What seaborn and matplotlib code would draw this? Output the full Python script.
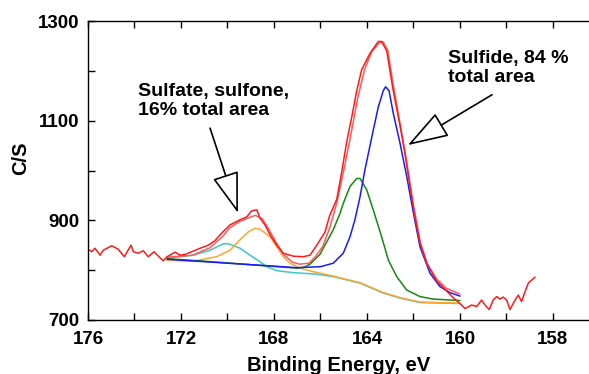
import matplotlib
matplotlib.use("Agg")
import matplotlib.pyplot as plt
import seaborn as sns
import pandas as pd

# raw spectrum (binding energy, counts per second)
raw_e = [176.0, 175.84, 175.7, 175.48, 175.34, 174.98, 174.7, 174.44, 174.15, 174.05,
         173.84, 173.62, 173.41, 173.16, 172.95, 172.76, 172.6, 172.26, 172.04, 171.8,
         171.54, 171.18, 170.83, 170.54, 170.32, 169.89, 169.46, 169.17, 168.96, 168.74,
         168.6, 168.39, 168.17, 167.88, 167.6, 167.17, 166.74, 166.45, 166.16, 165.81,
         165.6, 165.3, 165.09, 164.87, 164.66, 164.44, 164.23, 163.87, 163.51, 163.37,
         163.15, 162.87, 162.58, 162.37, 162.15, 161.94, 161.72, 161.43, 161.0, 160.57,
         160.3, 160.0, 159.78, 159.5, 159.28, 159.07, 158.92, 158.74, 158.57, 158.42,
         158.28, 158.14, 157.99, 157.85, 157.63, 157.49, 157.35, 157.2, 157.06, 156.77]
raw_cps = [842, 837, 844, 830, 840, 849, 842, 827, 850, 837,
           834, 839, 827, 837, 827, 819, 827, 836, 830, 832,
           837, 844, 850, 859, 871, 891, 901, 907, 919, 921,
           904, 891, 871, 850, 834, 828, 827, 830, 850, 876,
           910, 942, 996, 1058, 1106, 1160, 1202, 1235, 1259, 1259,
           1240, 1160, 1090, 1035, 968, 907, 854, 814, 778, 758,
           745, 733, 723, 730, 727, 740, 730, 721, 740, 747,
           742, 746, 740, 721, 740, 750, 737, 757, 774, 786]

# fit envelope
env_e = [172.6, 171.5, 170.75, 170.2, 169.9, 169.5, 169.1, 168.8, 168.5, 168.2,
         167.9, 167.6, 167.2, 166.9, 166.5, 166.2, 165.9, 165.6, 165.3, 165.0,
         164.7, 164.4, 164.1, 163.8, 163.5, 163.3, 163.1, 162.9, 162.6, 162.3,
         162.0, 161.7, 161.4, 161.0, 160.6, 160.0]
env_cps = [826, 830, 845, 868, 885, 897, 905, 910, 903, 880,
           855, 832, 816, 812, 814, 828, 848, 885, 935, 1000,
           1070, 1145, 1203, 1238, 1255, 1258, 1240, 1180, 1100, 1020,
           930, 855, 812, 782, 764, 752]

# sulfide components
blue_e = [172.6, 171.0, 169.0, 167.0, 166.0, 165.45, 165.02, 164.73, 164.52, 164.3,
          164.09, 163.73, 163.51, 163.3, 163.2, 163.05, 162.87, 162.58, 162.29, 162.0,
          161.72, 161.29, 160.86, 160.43, 160.0]
blue_cps = [822, 817, 811, 805, 807, 814, 834, 867, 901, 947,
            1001, 1081, 1128, 1160, 1168, 1160, 1115, 1055, 988, 914,
            847, 794, 767, 755, 748]
green_e = [172.6, 171.0, 169.0, 167.0, 166.7, 166.45, 166.02, 165.45, 165.16, 165.02,
           164.73, 164.44, 164.3, 164.01, 163.73, 163.37, 163.08, 162.72, 162.29, 161.72,
           161.15, 160.0]
green_cps = [823, 818, 811, 804, 806, 812, 832, 881, 914, 934,
             968, 984, 984, 961, 921, 867, 820, 787, 760, 747,
             742, 739]

# sulfate / sulfone components
cyan_e = [172.6, 171.47, 170.75, 170.18, 169.97, 169.46, 169.03, 168.6, 168.31, 167.88,
          167.17, 166.16, 165.45, 164.3, 163.3, 162.58, 161.72, 160.0]
cyan_cps = [824, 830, 840, 853, 853, 844, 830, 817, 807, 799,
            795, 792, 787, 774, 754, 744, 735, 733]
orange_e = [172.6, 171.47, 170.47, 169.89, 169.46, 169.1, 168.82, 168.6, 168.17, 167.88,
            167.6, 167.31, 166.88, 166.31, 165.45, 164.3, 163.3, 162.58, 161.72, 160.0]
orange_cps = [820, 818, 827, 840, 861, 877, 884, 882, 867, 847,
              827, 814, 804, 797, 788, 775, 755, 745, 736, 734]

xtick_pos = [176, 172, 168, 164, 160, 156]
xtick_labels = ["176", "172", "168", "164", "160", "158"]
ytick_pos = [700, 900, 1100, 1300]

sns.set_style("ticks")
plt.rcParams["font.family"] = ["Liberation Sans", "DejaVu Sans"]
plt.rcParams["font.weight"] = "bold"
plt.rcParams["text.color"] = "black"
plt.rcParams["axes.labelcolor"] = "black"
plt.rcParams["xtick.color"] = "black"
plt.rcParams["ytick.color"] = "black"

fig = plt.figure(figsize=(5.89, 3.74), dpi=100)
ax = fig.add_axes([88 / 589, 54 / 374, 501 / 589, 299 / 374])

curves = [
    (cyan_e, cyan_cps, "#3cc8c8"),
    (orange_e, orange_cps, "#ffa530"),
    (green_e, green_cps, "#138a13"),
    (blue_e, blue_cps, "#1a1aff"),
    (env_e, env_cps, "#ff5a5a"),
    (raw_e, raw_cps, "#ff1a1a"),
]
for xs, ys, col in curves:
    df = pd.DataFrame({"E": xs, "cps": ys})
    sns.lineplot(data=df, x="E", y="cps", color=col, lw=1.1, estimator=None, ax=ax)

ax.set_xlim(176, 154.45)
ax.set_ylim(700, 1300)
ax.set_xticks(xtick_pos)
ax.set_xticklabels(xtick_labels)
ax.set_xticks(range(174, 154, -4), minor=True)
ax.set_yticks(ytick_pos)
ax.set_yticks([800, 1000, 1200], minor=True)
ax.tick_params(which="both", direction="in", length=5, width=1, top=True, right=False,
               colors="black")
ax.tick_params(axis="x", labelsize=13.5, pad=8)
ax.tick_params(axis="y", labelsize=13.5, pad=6)
for lab in ax.get_xticklabels() + ax.get_yticklabels():
    lab.set_fontweight("bold")
ax.spines["right"].set_visible(False)
for s in ["left", "top", "bottom"]:
    ax.spines[s].set_linewidth(1.0)
    ax.spines[s].set_color("black")

ax.set_xlabel("Binding Energy, eV", fontsize=14.5, fontweight="bold", labelpad=6, color="black")
ax.set_ylabel("C/S", fontsize=14.5, fontweight="bold", color="black")
ax.yaxis.set_label_coords(-0.115, 0.54)

arrow = dict(arrowstyle="-|>,head_length=2.6,head_width=0.85", fc="white", ec="black",
             lw=1.2, shrinkA=0, shrinkB=0, mutation_scale=10)
ax.annotate("", xy=(169.55, 915), xytext=(170.75, 1085), arrowprops=arrow)
ax.annotate("", xy=(162.24, 1051), xytext=(158.62, 1152), arrowprops=arrow)
ax.text(173.85, 1175, "Sulfate, sulfone,\n16% total area", fontsize=14, fontweight="bold",
        va="top", ha="left", linespacing=1.15, color="black")
ax.text(160.52, 1241, "Sulfide, 84 %\ntotal area", fontsize=14, fontweight="bold",
        va="top", ha="left", linespacing=1.15, color="black")

plt.savefig("out.png", dpi=100)
